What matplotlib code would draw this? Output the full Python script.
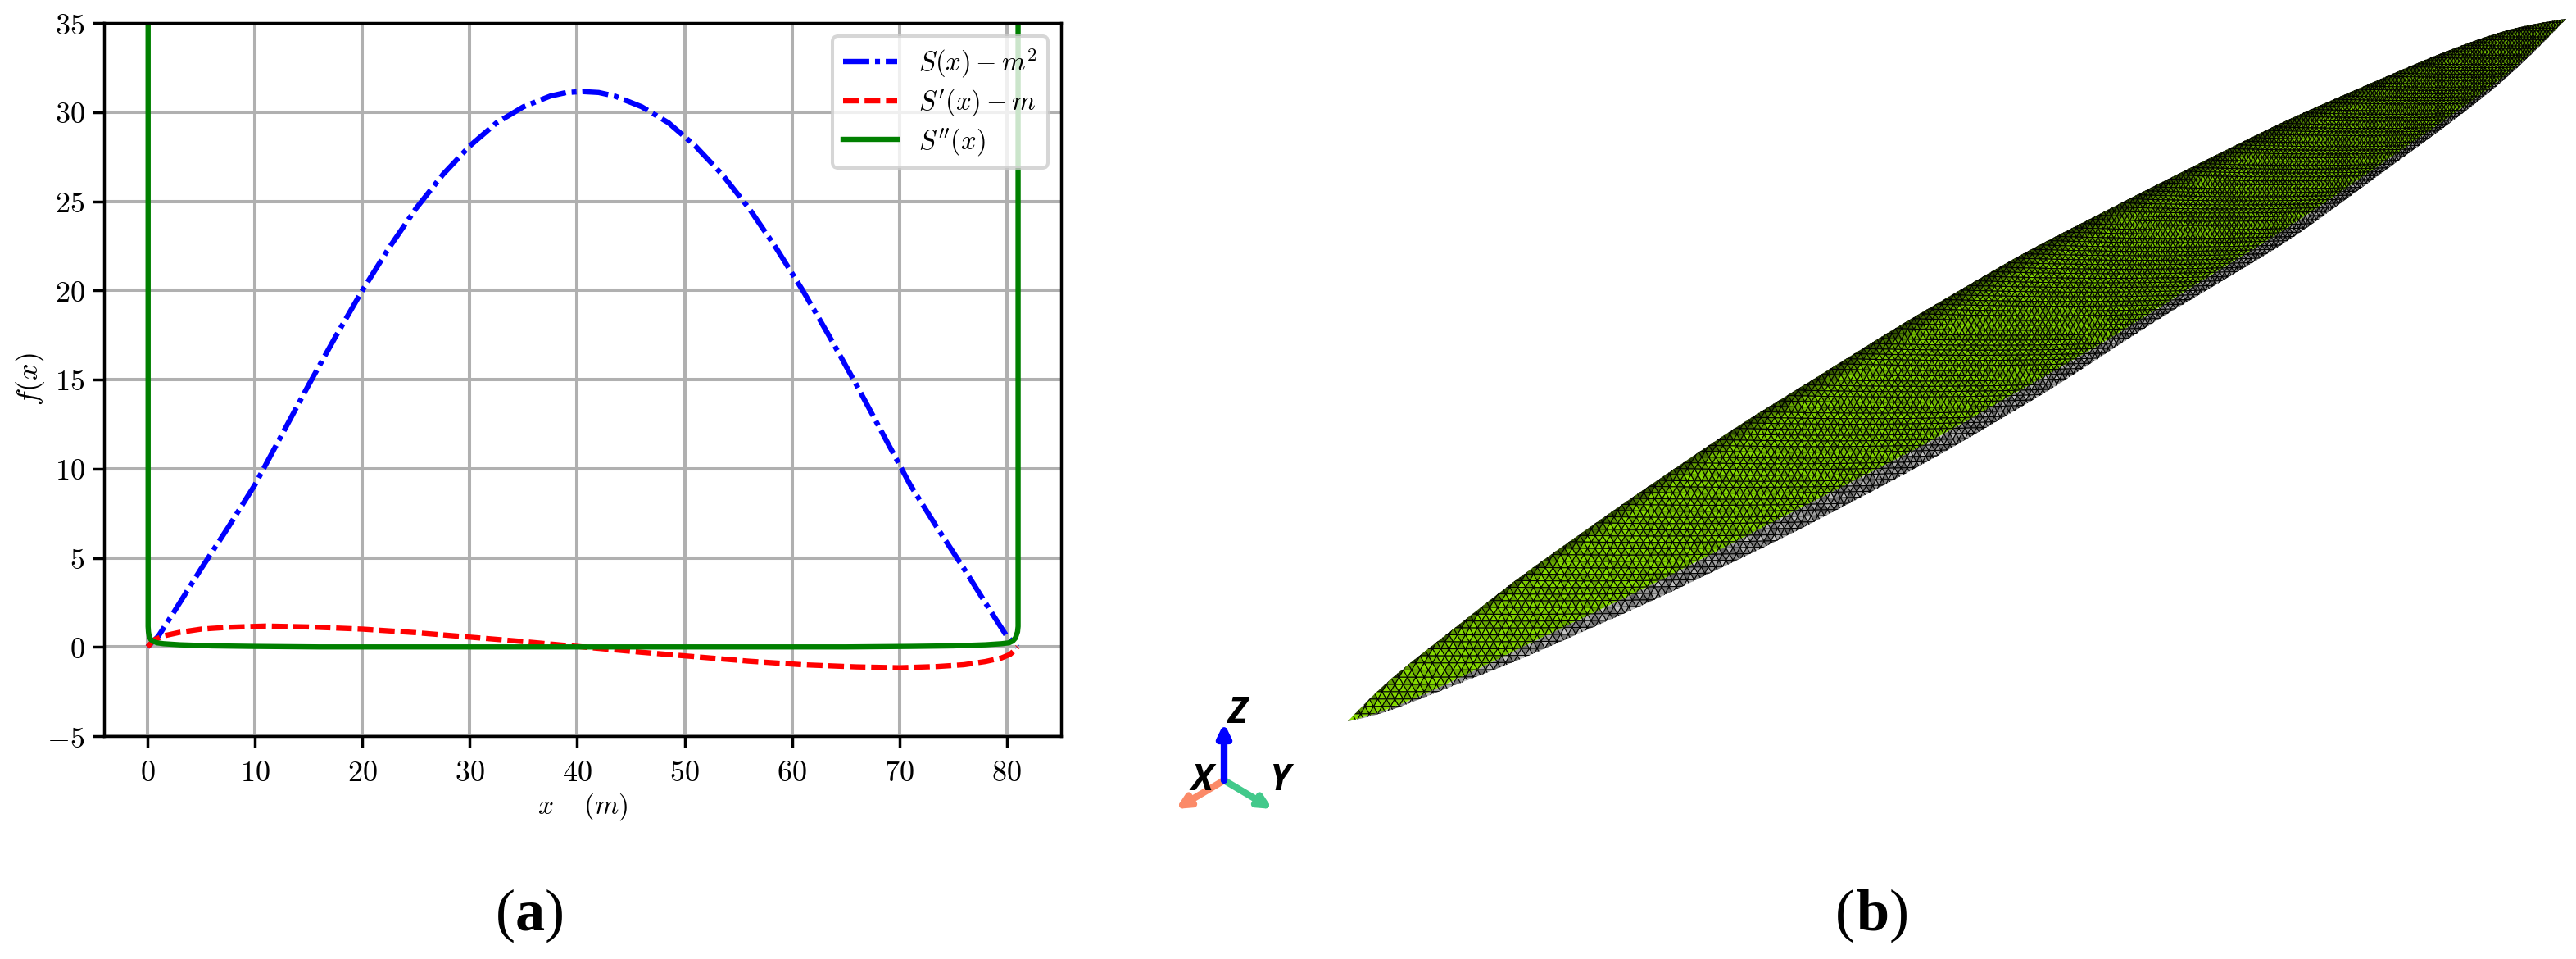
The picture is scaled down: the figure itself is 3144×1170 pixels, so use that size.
#!/usr/bin/env python
import numpy as np
import matplotlib
matplotlib.use("Agg")
import matplotlib.pyplot as plt
from matplotlib.collections import PolyCollection
from matplotlib.patches import Polygon
from matplotlib.path import Path

plt.rcParams['mathtext.fontset'] = 'cm'

W, H, DPI = 3144, 1170, 200

# ---- panel (a) curves

s_x = [0, 1, 2.5, 5, 7.5, 10, 12.5, 15, 17.5, 20, 22.5, 25, 27.5, 30, 32.5, 35, 37.5, 39, 40.5,
       42, 43.5, 46, 48.5, 51, 53.5, 56, 58.5, 61, 63.5, 66, 68.5, 71, 73.5, 76, 78.5, 80, 81]
s_y = [0, 0.6, 2.0, 4.4, 6.7, 9.1, 11.9, 14.7, 17.4, 20.0, 22.4, 24.6, 26.5, 28.1, 29.4, 30.3, 30.9, 31.1, 31.15,
       31.1, 30.9, 30.3, 29.4, 28.1, 26.5, 24.6, 22.4, 20.0, 17.4, 14.7, 11.9, 9.1, 6.7, 4.4, 2.0, 0.6, 0]

sp_x = [0, 0.3, 0.7, 1.5, 3, 5, 7.5, 11, 15, 20, 25, 30, 35, 40.5,
        46, 51, 56, 61, 66, 70, 73.5, 76, 78, 79.5, 80.3, 80.7, 81]
sp_y = [0, 0.2, 0.42, 0.62, 0.82, 1.0, 1.1, 1.17, 1.12, 1.0, 0.8, 0.55, 0.3, 0.0,
        -0.3, -0.55, -0.8, -1.0, -1.12, -1.17, -1.1, -1.0, -0.82, -0.62, -0.42, -0.2, 0]

spp_x = [0.05, 0.05, 0.08, 0.15, 0.3, 0.55, 0.9, 1.5, 3, 6, 10, 16, 25, 40.5,
         56, 65, 71, 75, 78, 79.5, 80.2, 80.55, 80.8, 81.0, 81.05, 81.05]
spp_y = [35, 1.15, 0.85, 0.6, 0.42, 0.3, 0.23, 0.18, 0.12, 0.06, 0.03, 0.0, 0.0, 0.0,
         0.0, 0.0, 0.03, 0.06, 0.12, 0.18, 0.23, 0.33, 0.5, 0.85, 1.15, 35]

x_ticks = [0, 10, 20, 30, 40, 50, 60, 70, 80]
y_ticks = [-5, 0, 5, 10, 15, 20, 25, 30, 35]
labels = [r'$S(x) - m^2$', r"$S'(x) - m$", r"$S''(x)$"]

# ---- panel (b) outline in picture pixels

top_x = [1645, 1663, 1710, 1767, 1850, 1983, 2117, 2250, 2300, 2467, 2633, 2783, 2867, 2983, 3067, 3132]
top_y = [880, 857, 817, 773, 707, 613, 522, 440, 408, 310, 225, 150, 113, 63, 33, 23]
mid_x = [1645, 1673, 1770, 1850, 2017, 2183, 2350, 2567, 2683, 2800, 2983, 3067, 3132]
mid_y = [880, 875, 833, 793, 713, 627, 542, 418, 345, 273, 147, 87, 23]
low_x = [1645, 1670, 1770, 1850, 2017, 2183, 2350, 2500, 2633, 2800, 2867, 3000, 3067, 3132]
low_y = [880, 878, 838, 807, 733, 653, 565, 477, 390, 290, 240, 143, 90, 23]

fig = plt.figure(figsize=(W / DPI, H / DPI), dpi=DPI)

# ---- (b) goes on a full figure axes in pixel coordinates

bg = fig.add_axes([0, 0, 1, 1])
bg.set_xlim(0, W)
bg.set_ylim(H, 0)
bg.axis('off')

xx = np.linspace(1645, 3132, 600)


def outline(px, py, win=61):
    # take the corners out of the hand read outline, ends stay on the tips
    y = np.interp(xx, px, py)
    k = win // 2
    pad = np.r_[2 * y[0] - y[k:0:-1], y, 2 * y[-1] - y[-2:-k - 2:-1]]
    w = np.hanning(win)
    return np.convolve(pad, w / w.sum(), mode='valid')


top = outline(top_x, top_y)
mid = outline(mid_x, mid_y)
low = outline(low_x, low_y)
green_poly = np.r_[np.c_[xx, top], np.c_[xx[::-1], mid[::-1]]]
grey_poly = np.r_[np.c_[xx, mid], np.c_[xx[::-1], low[::-1]]]

# triangle lattice that gets finer towards the far tip
tip = np.array([1645.0, 880.0])
d = np.array([1487.0, -857.0]) / np.hypot(1487, 857)
n = np.array([-d[1], d[0]])
along = [0.0]
while along[-1] < 1760:
    along.append(along[-1] + 0.87 * (10.5 - 6.5 * along[-1] / 1716))
along = np.array(along)
step = 10.5 - 6.5 * along / 1716
jj = np.arange(-70, 71)

pts = np.zeros((len(along), len(jj), 2))
for i in range(len(along)):
    off = (jj + 0.5 * (i % 2)) * step[i]
    pts[i] = tip + d * along[i] + np.outer(off, n)

tris = []
ids = []
for i in range(len(along) - 1):
    for j in range(len(jj) - 1):
        if i % 2 == 0:
            tris.append([pts[i, j], pts[i, j + 1], pts[i + 1, j]])
            tris.append([pts[i, j + 1], pts[i + 1, j + 1], pts[i + 1, j]])
        else:
            tris.append([pts[i, j], pts[i + 1, j + 1], pts[i + 1, j]])
            tris.append([pts[i, j], pts[i, j + 1], pts[i + 1, j + 1]])
        ids.append((i * 7 + j * 3) % 5)
        ids.append((i * 5 + j * 11 + 2) % 7)
tris = np.array(tris)
ids = np.array(ids)
cen = tris.mean(axis=1)


def mesh(poly, keep_colors, lw):
    inside = Path(poly).contains_points(cen, radius=6)
    pc = PolyCollection(tris[inside], facecolors=keep_colors(cen[inside], ids[inside]),
                        edgecolors='k', linewidths=lw)
    bg.add_collection(pc)
    pc.set_clip_path(Polygon(poly, transform=bg.transData))


def green_faces(c, v):
    yt = np.interp(c[:, 0], xx, top)
    t = np.clip((c[:, 1] - yt) / (np.interp(c[:, 0], xx, mid) - yt + 1e-6), 0, 1)
    b = np.clip(0.3 + 4.5 * t, 0, 1) * (0.74 + 0.06 * v)
    b = b * (1.08 - 0.22 * (c[:, 0] - 1645) / 1487)
    b = np.clip(b, 0, 1)
    return np.c_[0.52 * b, 0.85 * b, 0 * b]


def grey_faces(c, v):
    b = 0.42 + 0.06 * v - 0.08 * (c[:, 0] - 1645) / 1487
    return np.c_[b, b, b]


mesh(grey_poly, grey_faces, 0.36)
mesh(green_poly, green_faces, 0.38)

# ---- little axis triad

origin = (1494, 952)
arrows = [((1435, 987), '#fb8a68'), ((1553, 987), '#42c98b'), ((1494, 882), '#0000ff')]
for end, col in arrows:
    bg.annotate('', xy=end, xytext=origin, xycoords='data',
                arrowprops=dict(arrowstyle='-|>,head_width=0.22,head_length=0.45', color=col, lw=3.0,
                                shrinkA=0, shrinkB=0))
for name, px, py in [('X', 1467, 953), ('Y', 1563, 953), ('Z', 1510, 870)]:
    bg.text(px, py, name, family='Open Sans', style='italic', weight='bold', fontsize=16,
            ha='center', va='center', color='k')

# ---- (a)

ax = fig.add_axes([127 / W, 1 - 898 / H, (1295 - 127) / W, (898 - 28) / H])
ax.plot(s_x, s_y, color='b', ls=(0, (5.0, 1.1, 0.95, 1.1)), lw=2.3, label=labels[0])
ax.plot(sp_x, sp_y, color='r', ls=(0, (3.0, 1.1)), lw=2.3, label=labels[1])
ax.plot(spp_x, spp_y, color='g', lw=2.3, label=labels[2])
ax.set_xlim(-4.05, 85.05)
ax.set_ylim(-5, 35)
ax.set_xticks(x_ticks)
ax.set_yticks(y_ticks)
ax.set_xticklabels(['$%d$' % v for v in x_ticks], fontsize=13)
ax.set_yticklabels(['$%d$' % v for v in y_ticks], fontsize=13)
ax.grid(True, color='#b0b0b0', lw=1.45)
ax.set_axisbelow(True)
ax.tick_params(width=1.25, length=5)
ax.tick_params(axis='x', pad=5)
for sp in ax.spines.values():
    sp.set_linewidth(1.25)
ax.set_xlabel(r'$x - (m)$', fontsize=12, labelpad=2)
ax.set_ylabel(r'$f(x)$', fontsize=13, labelpad=0)
leg = ax.legend(loc='upper right', fontsize=11.8, framealpha=0.8, edgecolor='0.8', labelspacing=0.28,
                borderpad=0.4)
leg.get_frame().set_linewidth(1.45)

# ---- captions

for cx, gap, letter in [(647, 30, 'a'), (2285, 33, 'b')]:
    fig.text((cx - gap) / W, 1 - 1117 / H, '(', family='Liberation Serif', fontsize=26, ha='center', va='center')
    fig.text(cx / W, 1 - 1117 / H, letter, family='Liberation Serif', weight='bold', fontsize=26, ha='center', va='center')
    fig.text((cx + gap) / W, 1 - 1117 / H, ')', family='Liberation Serif', fontsize=26, ha='center', va='center')

plt.savefig("out.png", dpi=DPI)
